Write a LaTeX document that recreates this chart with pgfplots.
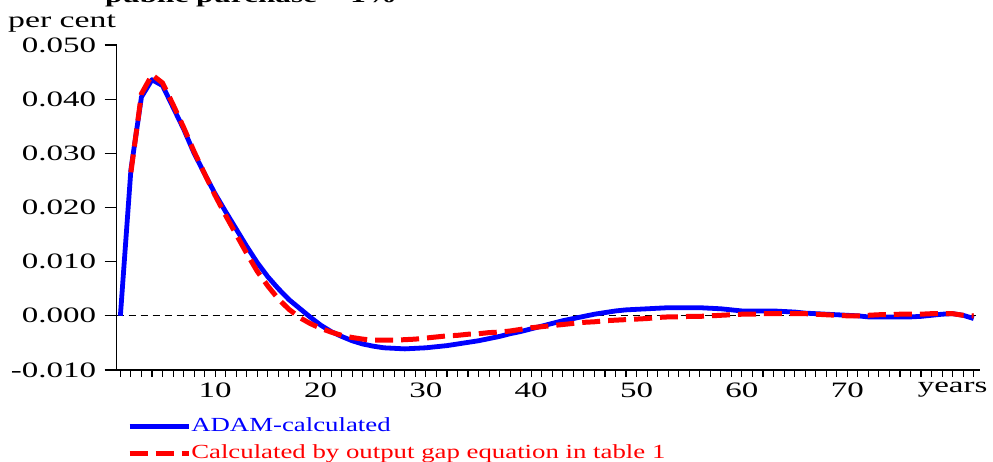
\documentclass[border=0pt]{standalone}
\usepackage{fontspec}
\setmainfont{Liberation Serif}[FakeStretch=1.5]
\newfontfamily\legfont{Liberation Serif}[FakeStretch=1.34]
\usepackage{pgfplots}
\pgfplotsset{compat=1.18}
\definecolor{adamblue}{RGB}{0,0,255}
\definecolor{gapred}{RGB}{255,0,0}
\begin{document}
\begin{tikzpicture}
\begin{axis}[
  at={(0pt,0pt)}, anchor=south west,
  scale only axis, width=863.3pt, height=325pt,
  xmin=0.65, xmax=82.6, ymin=-0.010, ymax=0.050,
  axis x line=bottom, axis y line=left,
  axis line style={-, line width=1.6pt, black},
  tick align=outside,
  major tick length=7pt, minor tick length=12pt,
  every tick/.style={black, line width=1.1pt},
  scaled y ticks=false,
  ytick={-0.010,0,0.010,0.020,0.030,0.040,0.050},
  minor ytick={-0.010,0,0.010,0.020,0.030,0.040,0.050},
  yticklabels={-0.010,0.000,0.010,0.020,0.030,0.040,0.050},
  xtick={1,2,...,82},
  xticklabels={,,,,,,,,,10,,,,,,,,,,20,,,,,,,,,,30,,,,,,,,,,40,,,,,,,,,,50,,,,,,,,,,60,,,,,,,,,,70,,,,,,,,,,years,,},
  tick label style={font=\fontsize{22}{26}\selectfont},
  yticklabel style={xshift=-10pt},
  xticklabel style={yshift=-2pt},
  legend style={at={(rel axis cs:0.012,-0.145)}, anchor=north west,
    draw=none, fill=none, inner sep=0pt, row sep=9pt,
    font=\legfont\fontsize{20}{24}\selectfont,
    nodes={inner sep=0pt, text height=14pt, text depth=4pt}},
  legend cell align=left,
  legend image code/.code={\draw[#1] (0pt,0pt) -- (55pt,0pt); \path (0pt,0pt) -- (59pt,0pt);},
  clip=false,
]
\addplot[black, line width=1.2pt, dash pattern=on 7pt off 5pt, forget plot] coordinates {(0.65,0) (82.6,0)};
\addplot[adamblue, line width=4.8pt, line join=round] coordinates {
(1,0) (2,0.0270) (3,0.0404) (4,0.0436) (5,0.0425) (6,0.0385) (7,0.0345) (8,0.0300)
(9,0.0262) (10,0.0225) (11,0.0192) (12,0.0160) (13,0.0128) (14,0.0098) (15,0.0072)
(16,0.0050) (17,0.0030) (18,0.0014) (19,-0.0002) (20,-0.0017) (21,-0.0029) (22,-0.0038)
(23,-0.0046) (24,-0.0052) (25,-0.0056) (26,-0.0059) (27,-0.0060) (28,-0.0061) (29,-0.0060)
(30,-0.0059) (31,-0.0057) (32,-0.0055) (33,-0.0052) (34,-0.0049) (35,-0.0046) (36,-0.0042)
(37,-0.0038) (38,-0.0033) (39,-0.0029) (40,-0.0024) (41,-0.0019) (42,-0.0014) (43,-0.0009)
(44,-0.0005) (45,-0.0001) (46,0.0003) (47,0.0006) (48,0.0009) (49,0.0011) (50,0.0012)
(51,0.0013) (52,0.0014) (53,0.0015) (54,0.0015) (55,0.0015) (56,0.0015) (57,0.0014)
(58,0.0013) (59,0.0011) (60,0.0009) (61,0.0009) (62,0.0009) (63,0.0009) (64,0.0008)
(65,0.0007) (66,0.0005) (67,0.0004) (68,0.0003) (69,0.0002) (70,0.0001) (71,0.0000)
(72,-0.0002) (73,-0.0002) (74,-0.0002) (75,-0.0002) (76,-0.0002) (77,-0.0001) (78,0.0001)
(79,0.0003) (80,0.0004) (81,0.0001) (82,-0.0005)
};
\addlegendentry{\textcolor{adamblue}{ADAM-calculated}}
\addplot[gapred, line width=5pt, dash pattern=on 18pt off 8pt] coordinates {
(2,0.0265) (3,0.0410) (4,0.0445) (5,0.0430) (6,0.0390) (7,0.0348) (8,0.0303)
(9,0.0262) (10,0.0222) (11,0.0185) (12,0.0150) (13,0.0115) (14,0.0082) (15,0.0055)
(16,0.0031) (17,0.0012) (18,-0.0003) (19,-0.0014) (20,-0.0023) (21,-0.0030) (22,-0.0036)
(23,-0.0040) (24,-0.0043) (25,-0.0045) (26,-0.0045) (27,-0.0045) (28,-0.0044) (29,-0.0043)
(30,-0.0041) (31,-0.0039) (32,-0.0037) (33,-0.0036) (34,-0.0034) (35,-0.0033) (36,-0.0031)
(37,-0.0030) (38,-0.0028) (39,-0.0025) (40,-0.0022) (41,-0.0020) (42,-0.0018) (43,-0.0016)
(44,-0.0014) (45,-0.0012) (46,-0.0011) (47,-0.0009) (48,-0.0008) (49,-0.0007) (50,-0.0006)
(51,-0.0005) (52,-0.0003) (53,-0.0002) (54,-0.0002) (55,-0.0001) (56,-0.0001) (57,0.0000)
(58,0.0001) (59,0.0002) (60,0.0003) (61,0.0003) (62,0.0004) (63,0.0004) (64,0.0004)
(65,0.0004) (66,0.0004) (67,0.0003) (68,0.0002) (69,0.0001) (70,0.0000) (71,0.0000)
(72,0.0001) (73,0.0002) (74,0.0002) (75,0.0003) (76,0.0003) (77,0.0003) (78,0.0004)
(79,0.0004) (80,0.0004) (81,0.0001) (82,0.0000)
};
\addlegendentry{\textcolor{gapred}{Calculated by output gap equation in table 1}}
\end{axis}
\node[anchor=base west, inner sep=0pt, font=\fontsize{20.8}{25}\selectfont\bfseries] at (-11.7pt,367pt) {public purchase + 1\%};
\node[anchor=base west, inner sep=0pt, font=\fontsize{22.5}{26}\selectfont] at (-108.7pt,342pt) {per cent};
\pgfresetboundingbox
\path (-116.7pt,-92pt) rectangle (876.3pt,370pt);
\end{tikzpicture}
\end{document}
